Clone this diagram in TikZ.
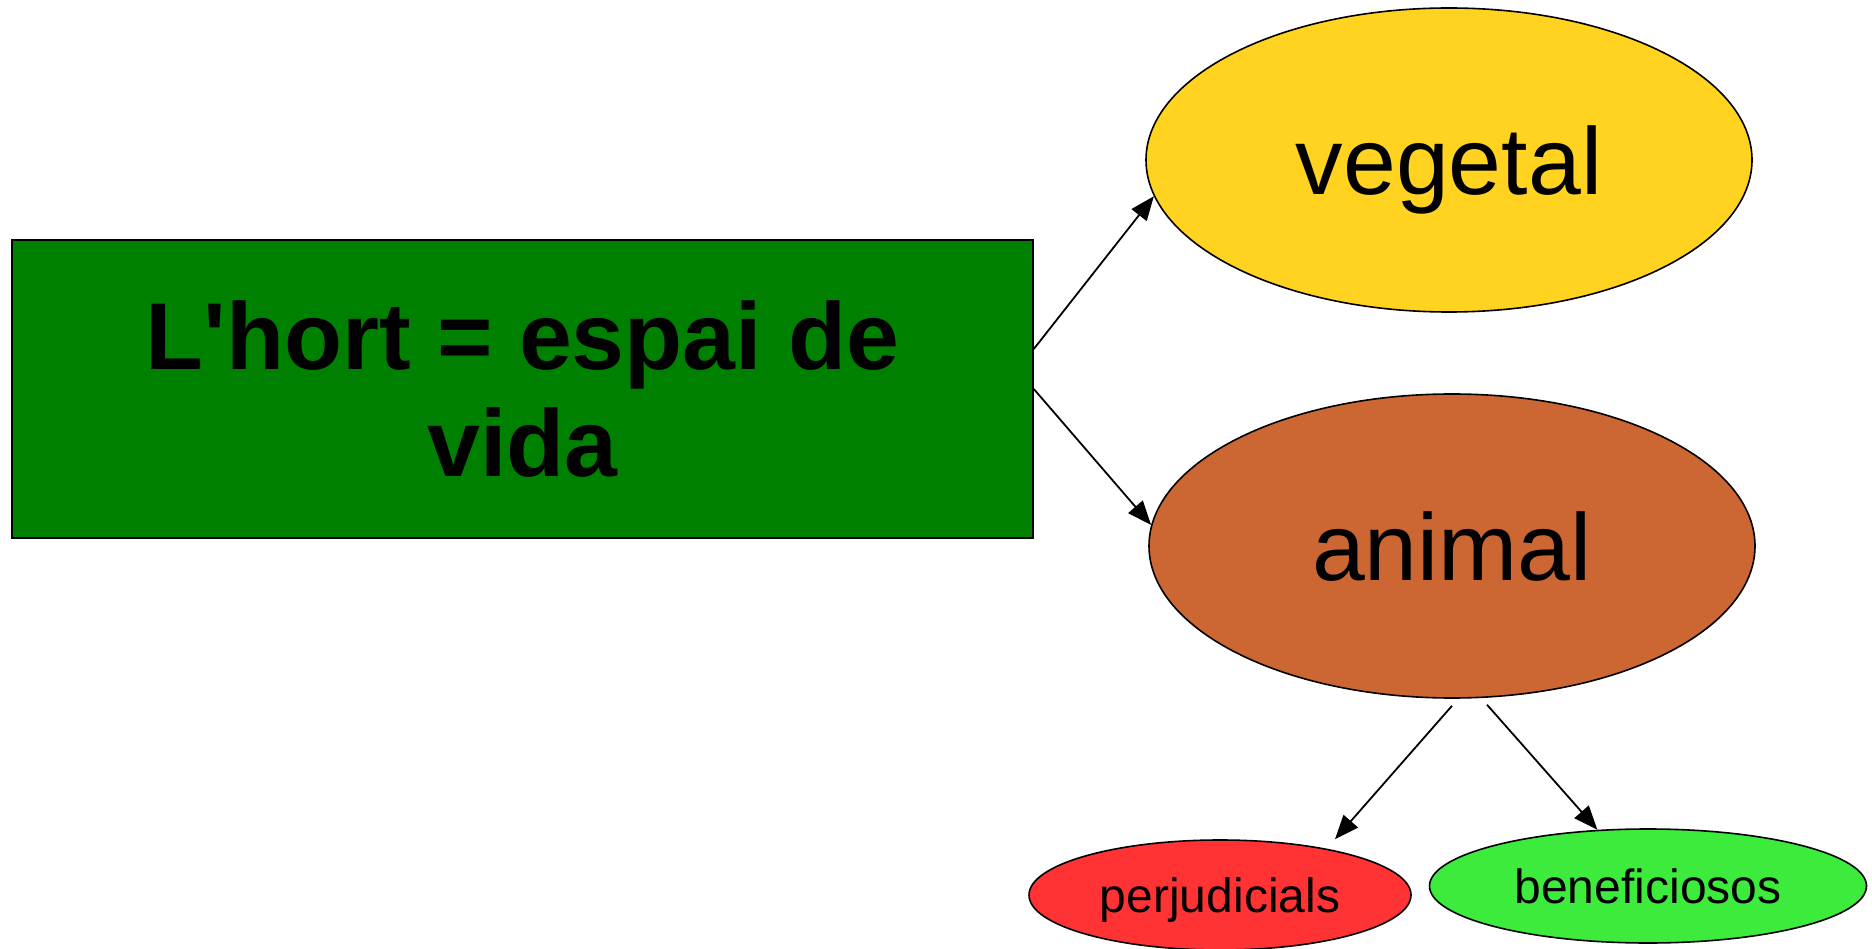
\documentclass[tikz,border=0pt]{standalone}
\usepackage{fontspec}
\setmainfont{Liberation Sans}
\usetikzlibrary{shapes.geometric,arrows.meta}
\definecolor{hortgreen}{HTML}{008000}
\definecolor{vegyellow}{HTML}{FFD320}
\definecolor{animbrown}{HTML}{CC6633}
\definecolor{perjred}{HTML}{FF3333}
\definecolor{benegreen}{HTML}{3DEB3D}
\tikzset{every concept/.style={draw=black,line width=1.6pt,inner sep=0pt},
        bigleaf/.style={every concept,ellipse,minimum width=606pt,minimum height=304pt,
                        text depth=0pt,font=\fontsize{95}{100}\selectfont},
        smallleaf/.style={every concept,ellipse,text depth=0pt,font=\fontsize{48}{52}\selectfont},
        link/.style={line width=1.8pt,-{Triangle[length=24pt,width=19pt]}},
        }

\begin{document}
\begin{tikzpicture}[x=1pt,y=-1pt]
    \useasboundingbox (0,0) rectangle (1872,949);
    \node[every concept,fill=hortgreen,minimum width=1021pt,minimum height=298pt,
          align=center,font=\fontsize{95}{107}\bfseries\selectfont] (hort) at (522.5,389)
          {L\textquotesingle hort = espai de\\vida};

    \node[bigleaf,fill=vegyellow] (vegetal) at (1449,160) {vegetal};
    \node[bigleaf,fill=animbrown] (animal) at (1452,546) {animal};

    \node[smallleaf,fill=perjred,minimum width=382pt,minimum height=110pt] (perjudicials) at (1220,895) {perjudicials};
    \node[smallleaf,fill=benegreen,minimum width=437pt,minimum height=114pt] (beneficiosos) at (1648,886) {beneficiosos};

    \draw[link] ([yshift=40pt]hort.east) -- (vegetal.187);
    \draw[link] (hort.east) -- (animal.176);
    \draw[link] ([yshift=-7pt]animal.south) -- ([xshift=115pt]perjudicials.north);
    \draw[link] ([yshift=-7pt]animal.-77) -- (beneficiosos.132);
\end{tikzpicture}
\end{document}
